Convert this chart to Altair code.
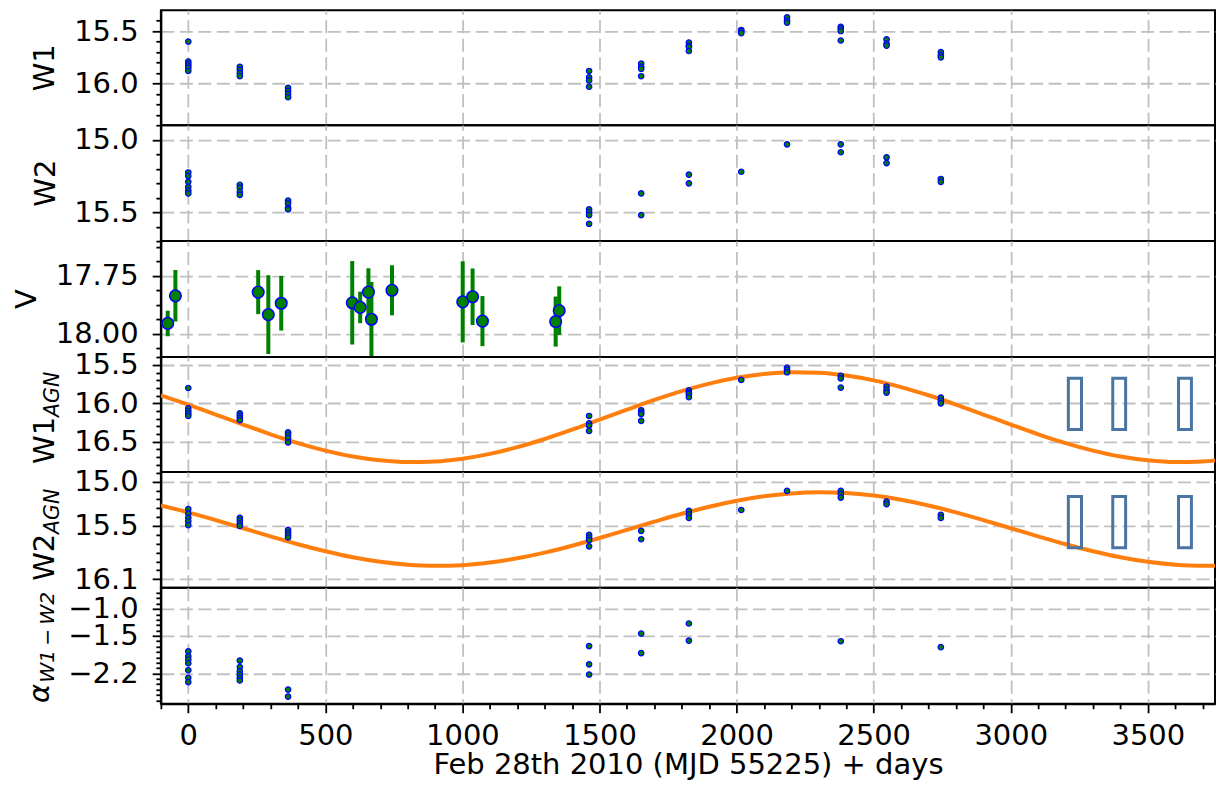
import altair as alt
import pandas as pd

# ---------------------------------------------------------------- data
EPOCHS = [0, 188, 364, 1462, 1652, 1826, 2017, 2184, 2380, 2547, 2745]

W1_MAG = [
    [15.60, 15.79, 15.81, 15.83, 15.85, 15.88],
    [15.84, 15.87, 15.90, 15.93],
    [16.04, 16.07, 16.10, 16.13],
    [15.88, 15.94, 15.97, 16.03],
    [15.81, 15.84, 15.86, 15.93],
    [15.61, 15.64, 15.65, 15.69],
    [15.49, 15.50, 15.52],
    [15.37, 15.40, 15.42],
    [15.46, 15.48, 15.50, 15.59],
    [15.58, 15.62, 15.64],
    [15.70, 15.73, 15.75],
]
W2_MAG = [
    [15.225, 15.25, 15.29, 15.325, 15.35, 15.37],
    [15.31, 15.33, 15.36, 15.38],
    [15.42, 15.44, 15.47, 15.48],
    [15.48, 15.50, 15.52, 15.58],
    [15.37, 15.52],
    [15.24, 15.30],
    [15.22],
    [15.03],
    [15.03, 15.085],
    [15.12, 15.16],
    [15.27, 15.29],
]
W1_AGN_MAG = [
    [15.80, 16.065, 16.10, 16.135, 16.165],
    [16.13, 16.16, 16.19, 16.22],
    [16.38, 16.41, 16.45, 16.51],
    [16.165, 16.26, 16.29, 16.36],
    [16.09, 16.12, 16.14, 16.23],
    [15.83, 15.86, 15.88, 15.92],
    [15.695],
    [15.535, 15.565, 15.595],
    [15.64, 15.675, 15.795],
    [15.78, 15.825, 15.86],
    [15.925, 15.965, 16.00],
]
W2_AGN_MAG = [
    [15.31, 15.36, 15.41, 15.45, 15.49],
    [15.41, 15.44, 15.47, 15.50],
    [15.545, 15.575, 15.60, 15.63],
    [15.60, 15.63, 15.66, 15.73],
    [15.555, 15.65],
    [15.33, 15.37, 15.41],
    [15.32],
    [15.105],
    [15.105, 15.14, 15.18],
    [15.225, 15.255],
    [15.375, 15.41],
]
ALPHA = [
    [-1.79, -1.88, -1.94, -2.01, -2.14, -2.28, -2.36],
    [-1.96, -2.08, -2.16, -2.22, -2.28, -2.33],
    [-2.50, -2.63],
    [-1.69, -2.03, -2.22],
    [-1.46, -1.82],
    [-1.27, -1.59],
    [],
    [],
    [-1.60],
    [],
    [-1.71],
]

# optical V-band photometry with 1-sigma errors
V_DAY = [-75, -47, 255, 292, 339, 598, 627, 657, 668, 743, 1001, 1037, 1073, 1340, 1353]
V_MAG = [17.955, 17.836, 17.82, 17.917, 17.868, 17.866, 17.886, 17.82, 17.937,
         17.812, 17.862, 17.84, 17.945, 17.947, 17.90]
V_ERR = [0.055, 0.111, 0.095, 0.170, 0.118, 0.180, 0.068, 0.103, 0.161,
         0.108, 0.175, 0.122, 0.108, 0.108, 0.105]

# sinusoidal fits to the AGN light curves
FIT_DAY = [-100, 0, 100, 200, 300, 400, 500, 600, 700, 800, 900, 1000, 1100, 1200,
           1300, 1400, 1500, 1600, 1700, 1800, 1900, 2000, 2100, 2200, 2300, 2400,
           2500, 2600, 2700, 2800, 2900, 3000, 3100, 3200, 3300, 3400, 3500, 3600,
           3700, 3800]
W1_FIT = [15.895, 16.016, 16.146, 16.277, 16.404, 16.519, 16.617, 16.694, 16.744,
          16.767, 16.759, 16.723, 16.660, 16.572, 16.465, 16.344, 16.214, 16.083,
          15.956, 15.841, 15.743, 15.666, 15.616, 15.593, 15.601, 15.637, 15.700,
          15.788, 15.895, 16.016, 16.146, 16.277, 16.404, 16.519, 16.617, 16.694,
          16.744, 16.767, 16.759, 16.723]
W2_FIT = [15.269, 15.347, 15.434, 15.526, 15.618, 15.707, 15.786, 15.854, 15.905,
          15.937, 15.950, 15.942, 15.913, 15.865, 15.801, 15.723, 15.636, 15.544,
          15.452, 15.363, 15.284, 15.216, 15.165, 15.133, 15.120, 15.128, 15.157,
          15.205, 15.269, 15.347, 15.434, 15.526, 15.618, 15.707, 15.786, 15.854,
          15.905, 15.937, 15.950, 15.942]

# planned observing windows (days) and their magnitude spans
WIN_START = [3210, 3372, 3612]
WIN_END = [3258, 3419, 3659]
WIN_W1 = [15.672, 16.341]
WIN_W2 = [15.167, 15.745]

# axis ticks
X_MAJOR = [0, 500, 1000, 1500, 2000, 2500, 3000, 3500]
X_MINOR = [-100 + 100 * i for i in range(39)]

# ---------------------------------------------------------------- styling
FONT = "DejaVu Sans"
FS = 29
GREEN = "#008000"
BLUE = "#0000ff"
ORANGE = "#ff7f0e"
WINDOW = "#4a75a2"
X_DOMAIN = [-100, 3745]
WIDTH = 1055
HEIGHTS = [115, 116, 116, 115, 116, 116]


def frange(a, b, step):
    n = int(round((b - a) / step))
    return [round(a + i * step, 4) for i in range(n + 1)]


def is_major(majors):
    return " || ".join(f"abs(datum.value - ({m})) < 1e-6" for m in majors)


def y_axis(majors, minors, fmt):
    test = is_major(majors)
    return alt.Axis(
        values=sorted(set(round(v, 4) for v in majors + minors)),
        format=fmt,
        labelExpr=f"({test}) ? datum.label : ''",
        labelOverlap=False,
        labelPadding=14,
        tickSize={"condition": {"test": test, "value": 8.7}, "value": 5},
        gridOpacity={"condition": {"test": test, "value": 1}, "value": 0},
        title=None,
    )


xscale = alt.Scale(domain=X_DOMAIN, nice=False, zero=False)
x_hidden = alt.Axis(values=X_MAJOR, labels=False, ticks=False, domain=False, title=None)
x_test = is_major(X_MAJOR)
x_bottom = alt.Axis(
    values=X_MINOR,
    format="d",
    labelExpr=f"({x_test}) ? datum.label : ''",
    labelOverlap=False,
    labelBaseline="alphabetic",
    labelPadding=32,
    tickSize={"condition": {"test": x_test, "value": 9}, "value": 5},
    gridOpacity={"condition": {"test": x_test, "value": 1}, "value": 0},
    title="Feb 28th 2010 (MJD 55225) + days",
    titleBaseline="alphabetic",
    titleY=70,
)


def long_table(mags):
    rows = [(d, m) for d, ms in zip(EPOCHS, mags) for m in ms]
    return pd.DataFrame(rows, columns=["day", "mag"])


def points(df, yscale, yaxis, xaxis):
    return alt.Chart(df).mark_point(
        shape="circle", filled=True, fill=GREEN, stroke=BLUE, strokeWidth=1.2,
        size=30, opacity=1, clip=True,
    ).encode(
        x=alt.X("day:Q", scale=xscale, axis=xaxis),
        y=alt.Y("mag:Q", scale=yscale, axis=yaxis),
    )


def label(text, x, y, size=FS, italic=False, align="center"):
    return alt.Chart(pd.DataFrame({"t": [text]})).mark_text(
        font=FONT, fontSize=size, fontStyle="italic" if italic else "normal",
        color="black", angle=270, align=align, baseline="alphabetic",
    ).encode(text="t:N", x=alt.value(x), y=alt.value(y))


def fit_line(values, yscale, yaxis):
    df = pd.DataFrame({"day": FIT_DAY, "mag": values})
    return alt.Chart(df).mark_line(
        color=ORANGE, strokeWidth=4, interpolate="monotone", clip=True
    ).encode(
        x=alt.X("day:Q", scale=xscale, axis=x_hidden),
        y=alt.Y("mag:Q", scale=yscale, axis=yaxis),
    )


def windows(span, yscale, yaxis):
    df = pd.DataFrame({"x0": WIN_START, "x1": WIN_END,
                       "y0": [span[0]] * 3, "y1": [span[1]] * 3})
    return alt.Chart(df).mark_rect(
        filled=False, stroke=WINDOW, strokeWidth=3, clip=True
    ).encode(
        x=alt.X("x0:Q", scale=xscale, axis=x_hidden), x2="x1:Q",
        y=alt.Y("y0:Q", scale=yscale, axis=yaxis), y2="y1:Q",
    )


# ---------------------------------------------------------------- panels
s1 = alt.Scale(domain=[15.303, 16.396], reverse=True, nice=False, zero=False)
a1 = y_axis([15.5, 16.0], frange(15.4, 16.3, 0.1), ".1f")
p1 = alt.layer(
    points(long_table(W1_MAG), s1, a1, x_hidden),
    label("W1", -107, HEIGHTS[0] / 2),
).properties(width=WIDTH, height=HEIGHTS[0])

s2 = alt.Scale(domain=[14.898, 15.70], reverse=True, nice=False, zero=False)
a2 = y_axis([15.0, 15.5], frange(14.9, 15.7, 0.1), ".1f")
p2 = alt.layer(
    points(long_table(W2_MAG), s2, a2, x_hidden),
    label("W2", -106, HEIGHTS[1] / 2),
).properties(width=WIDTH, height=HEIGHTS[1])

s3 = alt.Scale(domain=[17.60, 18.10], reverse=True, nice=False, zero=False)
a3 = y_axis([17.75, 18.0], frange(17.625, 18.0625, 0.0625), ".2f")
vdf = pd.DataFrame({"day": V_DAY, "mag": V_MAG, "err": V_ERR})
p3 = alt.layer(
    alt.Chart(vdf).transform_calculate(
        lo="datum.mag - datum.err", hi="datum.mag + datum.err"
    ).mark_rule(color=GREEN, strokeWidth=4, clip=True).encode(
        x=alt.X("day:Q", scale=xscale, axis=x_hidden),
        y=alt.Y("lo:Q", scale=s3, axis=a3), y2="hi:Q",
    ),
    alt.Chart(vdf).mark_point(
        shape="circle", filled=True, fill=GREEN, stroke=BLUE, strokeWidth=1.5,
        size=135, opacity=1, clip=True,
    ).encode(
        x=alt.X("day:Q", scale=xscale, axis=x_hidden),
        y=alt.Y("mag:Q", scale=s3, axis=a3),
    ),
    label("V", -125, HEIGHTS[2] / 2),
).properties(width=WIDTH, height=HEIGHTS[2])

s4 = alt.Scale(domain=[15.396, 16.895], reverse=True, nice=False, zero=False)
a4 = y_axis([15.5, 16.0, 16.5], frange(15.4, 16.8, 0.1), ".1f")
p4 = alt.layer(
    fit_line(W1_FIT, s4, a4),
    points(long_table(W1_AGN_MAG), s4, a4, x_hidden),
    windows(WIN_W1, s4, a4),
    label("W1", -107, 107, align="left"),
    label("AGN", -101.7, 60, size=20.5, italic=True, align="left"),
).properties(width=WIDTH, height=HEIGHTS[3])

s5 = alt.Scale(domain=[14.891, 16.198], reverse=True, nice=False, zero=False)
a5 = y_axis([15.0, 15.5, 16.1], frange(14.9, 16.1, 0.1), ".1f")
p5 = alt.layer(
    fit_line(W2_FIT, s5, a5),
    points(long_table(W2_AGN_MAG), s5, a5, x_hidden),
    windows(WIN_W2, s5, a5),
    label("W2", -107, 109, align="left"),
    label("AGN", -101.7, 62, size=20.5, italic=True, align="left"),
).properties(width=WIDTH, height=HEIGHTS[4])

s6 = alt.Scale(domain=[-2.764, -0.606], nice=False, zero=False)
a6 = y_axis([-1.0, -1.5, -2.2], frange(-2.7, -0.7, 0.1), ".1f")
p6 = alt.layer(
    points(long_table(ALPHA), s6, a6, x_bottom),
    label("\u03b1", -111.7, 115.3, italic=True, align="left"),
    label("W1\u2009\u2212\u2009W2", -106.7, 95, size=20.3, italic=True, align="left"),
).properties(width=WIDTH, height=HEIGHTS[5])

chart = alt.vconcat(p1, p2, p3, p4, p5, p6, spacing=0, bounds="flush").properties(
    padding={"left": 12, "top": 5, "right": 0, "bottom": 0},
    background="white",
).configure_view(
    stroke="black", strokeWidth=2
).configure_axis(
    labelFont=FONT, labelFontSize=FS, labelColor="black",
    titleFont=FONT, titleFontSize=FS, titleFontWeight="normal", titleColor="black",
    tickColor="black", tickWidth=1.8,
    domainColor="black", domainWidth=2,
    gridColor="#c0c0c0", gridDash=[13, 5.5], gridWidth=1.8,
)

chart.save("out.html", embed_options={"renderer": "svg", "actions": False})
